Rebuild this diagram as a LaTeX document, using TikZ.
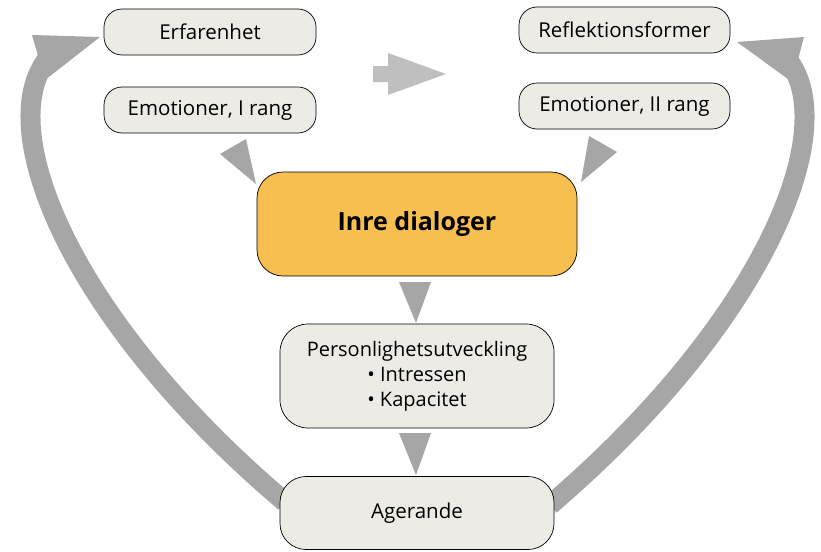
\documentclass[tikz,border=0pt]{standalone}
\usepackage{fontspec}
\setmainfont{Open Sans}
\definecolor{boxfill}{RGB}{237,235,230}
\definecolor{orangefill}{RGB}{246,191,80}
\definecolor{darkarrow}{RGB}{166,166,166}
\definecolor{lightarrow}{RGB}{191,191,191}
\begin{document}
\begin{tikzpicture}[x=1pt,y=-1pt,
  box/.style={draw=black, line width=0.7pt, fill=boxfill, rounded corners=18pt, inner sep=0pt,
    font=\fontsize{20.5}{24}\selectfont, align=center},
  smallbox/.style={box, minimum width=212pt, minimum height=46pt},
  bigshaft/.style={draw=darkarrow, line width=20pt},
  tri/.style={fill=darkarrow}]
\useasboundingbox (0,0) rectangle (821,551);

% big curved arrows (behind boxes)
\coordinate (lstart) at (285,502);
\coordinate (lend) at (48,58);
\coordinate (rstart) at (550,505);
\coordinate (rend) at (788,60);
\draw[bigshaft] (lstart) .. controls (70,320) and (-8,128) .. (lend);
\draw[bigshaft] (rstart) .. controls (764,322) and (842,130) .. (rend);
\fill[darkarrow] (32,35) -- (100,37) -- (45,80) -- cycle;
\fill[darkarrow] (804,37) -- (737,42) -- (792,82) -- cycle;

% boxes
\node[smallbox] (erf) at (210,32) {Erfarenhet};
\node[smallbox] (emo1) at (210,110) {Emotioner, I rang};
\node[smallbox, minimum width=211pt] (refl) at (624.5,30) {Reflektionsformer};
\node[smallbox, minimum width=211pt] (emo2) at (624.5,106) {Emotioner, II rang};
\node[box, fill=orangefill, rounded corners=26pt, minimum width=320pt, minimum height=104pt,
  font=\fontsize{25}{29}\selectfont\bfseries] (inre) at (417,224) {Inre dialoger};
\node[box, rounded corners=28pt, minimum width=274pt, minimum height=104pt,
  font=\fontsize{20}{25}\selectfont] (pers) at (417,376)
  {Personlighetsutveckling\\\textbullet\ Intressen\\\textbullet\ Kapacitet};
\node[box, rounded corners=26pt, minimum width=274pt, minimum height=73pt] (ag) at (417,513) {Agerande};

% triangles
\fill[tri] (220,154) -- (246,139) -- (256,184) -- cycle;
\fill[tri] (589,136) -- (617,152) -- (581,182) -- cycle;
\fill[tri] (399,282) -- (431,282) -- (416,323) -- cycle;
\fill[tri] (399,433) -- (431,433) -- (416,475) -- cycle;

% top light arrow
\fill[lightarrow] (373,66) -- (388,66) -- (388,53) -- (446,74) -- (388,95) -- (388,82) -- (373,82) -- cycle;
\end{tikzpicture}
\end{document}
